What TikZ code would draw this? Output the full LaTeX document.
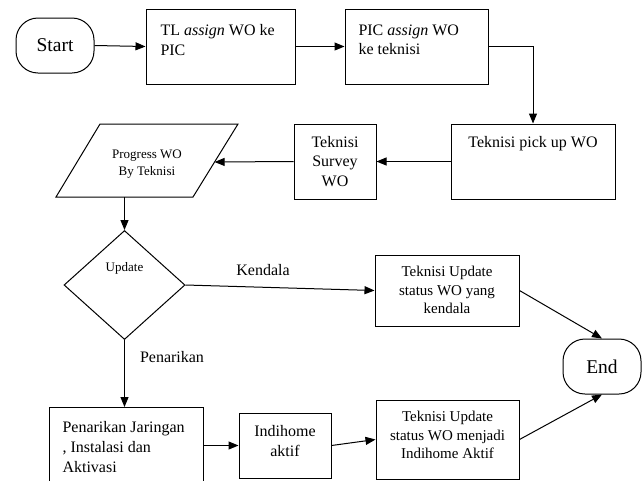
\documentclass[tikz,border=0pt]{standalone}
\usepackage{fontspec}
\setmainfont{Liberation Serif}
\usetikzlibrary{arrows.meta,shapes.geometric}
\begin{document}
\begin{tikzpicture}[x=1pt,y=-1pt,
  line width=1pt,
  box/.style={draw, rectangle, inner sep=0pt},
  term/.style={draw, rectangle, rounded corners=22pt, inner sep=0pt, minimum width=78pt, minimum height=55pt, font=\fontsize{19.5}{23}\selectfont},
  txt/.style={inner sep=0pt, font=\fontsize{16}{19.5}\selectfont},
  stxt/.style={inner sep=0pt, font=\fontsize{15}{18.3}\selectfont, align=center},
  smtxt/.style={inner sep=0pt, font=\fontsize{13}{17}\selectfont, align=center},
  arr/.style={-{Triangle[length=10pt,width=8pt]}},
]
\clip (0,0) rectangle (644,480);
\fill[white] (0,0) rectangle (644,480);

% terminals
\node[term] (start) at (55,45.5) {Start};
\node[term] (end) at (602,366.5) {End};

% top row
\node[box, minimum width=149pt, minimum height=75pt] (tl) at (220.5,46.5) {};
\node[txt, anchor=north west, align=left] (tltext) at (160,24) {TL \textit{assign} WO ke\\PIC};
\node[box, minimum width=143pt, minimum height=75pt] (pic) at (416.5,46.5) {};
\node[txt, anchor=north west, align=left] (pictext) at (358,24) {PIC \textit{assign} WO\\ke teknisi};

% second row
\node[box, minimum width=164pt, minimum height=75pt] (pick) at (533,161.5) {};
\node[txt, anchor=base] (picktext) at (533,147) {Teknisi pick up WO};
\node[box, minimum width=82pt, minimum height=75pt, txt, align=center] (survey) at (335,161.5) {Teknisi\\Survey\\WO};

% parallelogram
\coordinate (pa) at (100,124);
\coordinate (pb) at (238,124);
\coordinate (pc) at (193,197);
\coordinate (pd) at (56,197);
\draw (pa) -- (pb) -- (pc) -- (pd) -- cycle;
\coordinate (paraR) at (214.6,162);
\coordinate (paraB) at (124.5,197);
\node[smtxt] (paratext) at (147,164) {Progress WO\\By Teknisi};

% decision
\node[draw, diamond, minimum width=121pt, minimum height=109pt, inner sep=0pt] (dia) at (124.5,285) {};
\node[smtxt] (diatext) at (124.5,268) {Update};

% kendala
\node[box, minimum width=144pt, minimum height=71pt] (kend) at (447,290.5) {};
\node[stxt] (kendtext) at (447,290) {Teknisi Update\\status WO yang\\kendala};

% bottom row
\node[box, minimum width=154pt, minimum height=95pt, anchor=north west] (pen) at (49,407) {};
\node[txt, anchor=north west, align=left, font=\fontsize{16}{20}\selectfont] (pentext) at (62,421) {Penarikan Jaringan\\, Instalasi dan\\Aktivasi};
\node[box, minimum width=92pt, minimum height=65pt] (indi) at (285,445.5) {};
\node[txt, align=center] (inditext) at (285,441) {Indihome\\aktif};
\node[box, minimum width=143pt, minimum height=79pt] (aktif) at (447.5,439.5) {};
\node[stxt] (aktiftext) at (447.5,435) {Teknisi Update\\status WO menjadi\\Indihome Aktif};

% labels
\node[txt] (klabel) at (263,270) {Kendala};
\node[txt] (plabel) at (172,357) {Penarikan};

% connectors
\draw[arr] (start.east) -- (tl.west);
\draw[arr] (tl.east) -- (pic.west);
\draw[arr] (pic.east) -| (pick.north);
\draw[arr] (pick.west) -- (survey.east);
\draw[arr] (survey.west) -- (paraR);
\draw[arr] (paraB) -- (dia.north);
\draw[arr] (dia.east) -- (kend.west);
\draw[arr] (kend.east) -- (end.north);
\draw[arr] (dia.south) -- (dia.south |- pen.north);
\draw[arr] (indi.west -| pen.east) -- (indi.west);
\draw[arr] (indi.east) -- (aktif.west);
\draw[arr] (aktif.east) -- (end.south);
\end{tikzpicture}
\end{document}
